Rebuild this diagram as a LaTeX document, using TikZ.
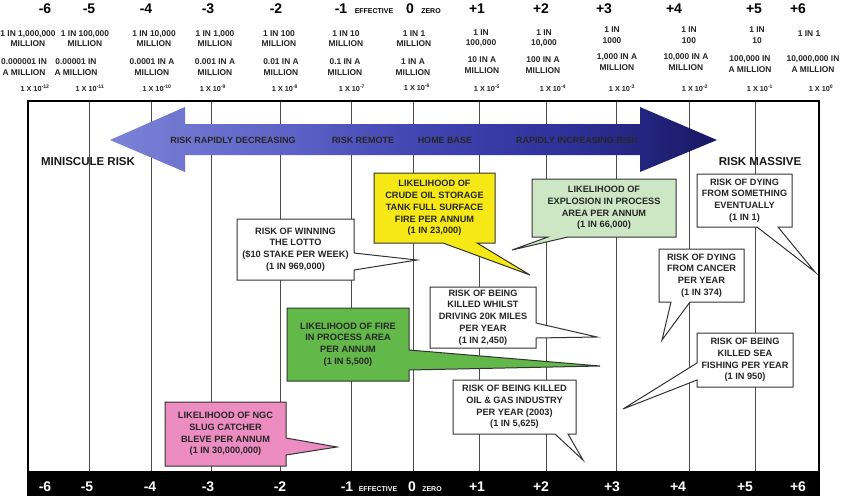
\documentclass[tikz,border=0pt]{standalone}
\usepackage{fontspec}
\setmainfont{Liberation Sans}
\definecolor{cyel}{RGB}{245,232,20}
\definecolor{clgreen}{RGB}{205,230,196}
\definecolor{cgreen}{RGB}{98,184,72}
\definecolor{cpink}{RGB}{236,140,192}
\definecolor{arrL}{RGB}{124,130,214}
\definecolor{arrA}{RGB}{92,98,198}
\definecolor{arrM}{RGB}{66,70,178}
\definecolor{arrB}{RGB}{46,48,152}
\definecolor{arrR}{RGB}{24,24,100}
\pgfdeclarehorizontalshading{arrshade}{100bp}{color(0bp)=(arrL); color(25bp)=(arrL); color(40bp)=(arrA); color(50bp)=(arrM); color(63bp)=(arrB); color(75bp)=(arrR); color(100bp)=(arrR)}
\begin{document}
\begin{tikzpicture}[x=1pt,y=-1pt,
  hdr/.style={font=\bfseries\fontsize{8.4}{10.5}\selectfont,align=center,text=black!85,inner sep=0pt},
  bignum/.style={font=\bfseries\fontsize{14}{14}\selectfont,inner sep=0pt,anchor=base},
  tinytxt/.style={font=\bfseries\fontsize{7}{7}\selectfont,inner sep=0pt,anchor=base},
  expo/.style={font=\bfseries\fontsize{7.3}{8}\selectfont,inner sep=0pt,text=black!85},
  calltext/.style={font=\bfseries\fontsize{9.2}{11.8}\selectfont,align=center,text=black!85,inner sep=0pt},
  cbox/.style={draw=black!80,line width=1pt,line join=miter},
  vline/.style={draw=black!70,line width=0.9pt},
  arrowtext/.style={font=\bfseries\fontsize{9}{10}\selectfont,text=black!85,inner sep=0pt},
  risk/.style={font=\bfseries\fontsize{11.5}{12}\selectfont,inner sep=0pt,text=black!90},
]
\useasboundingbox (0,0) rectangle (844,496);
\fill[white] (0,0) rectangle (844,496);

% ---------- header: scale numbers ----------
\node[bignum] (tm6) at (45,13) {-6};
\node[bignum] (tm5) at (89,13) {-5};
\node[bignum] (tm4) at (146,13) {-4};
\node[bignum] (tm3) at (208,13) {-3};
\node[bignum] (tm2) at (276,13) {-2};
\node[bignum] (tm1) at (341,13) {-1};
\node[tinytxt] (teff) at (374,13) {EFFECTIVE};
\node[bignum] (t0) at (410,13) {0};
\node[tinytxt] (tzero) at (431,13) {ZERO};
\node[bignum] (tp1) at (477,13) {+1};
\node[bignum] (tp2) at (541,13) {+2};
\node[bignum] (tp3) at (604,13) {+3};
\node[bignum] (tp4) at (674,13) {+4};
\node[bignum] (tp5) at (754,13) {+5};
\node[bignum] (tp6) at (798,13) {+6};

% ---------- header: 1 in ... ----------
\node[hdr] (ra1) at (28,38.5) {1 IN 1,000,000\\MILLION};
\node[hdr] (ra2) at (85,38.5) {1 IN 100,000\\MILLION};
\node[hdr] (ra3) at (154,38.5) {1 IN 10,000\\MILLION};
\node[hdr] (ra4) at (215,38.5) {1 IN 1,000\\MILLION};
\node[hdr] (ra5) at (279,38.5) {1 IN 100\\MILLION};
\node[hdr] (ra6) at (346,38.5) {1 IN 10\\MILLION};
\node[hdr] (ra7) at (414,38.5) {1 IN 1\\MILLION};
\node[hdr] (ra8) at (481,38.5) {1 IN\\100,000};
\node[hdr] (ra9) at (544,38.5) {1 IN\\10,000};
\node[hdr] (ra10) at (612,35) {1 IN\\1000};
\node[hdr] (ra11) at (689,35) {1 IN\\100};
\node[hdr] (ra12) at (757,35) {1 IN\\10};
\node[hdr] (ra13) at (809,34) {1 IN 1};

% ---------- header: in a million ----------
\node[hdr] (rb1) at (24,67) {0.000001 IN\\A MILLION};
\node[hdr] (rb2) at (76,67) {0.00001 IN\\A MILLION};
\node[hdr] (rb3) at (152,67) {0.0001 IN A\\MILLION};
\node[hdr] (rb4) at (215,67) {0.001 IN A\\MILLION};
\node[hdr] (rb5) at (281,67) {0.01 IN A\\MILLION};
\node[hdr] (rb6) at (345,67) {0.1 IN A\\MILLION};
\node[hdr] (rb7) at (413,67) {1 IN A\\MILLION};
\node[hdr] (rb8) at (482,65) {10 IN A\\MILLION};
\node[hdr] (rb9) at (543,65) {100 IN A\\MILLION};
\node[hdr] (rb10) at (617,62) {1,000 IN A\\MILLION};
\node[hdr] (rb11) at (686,62) {10,000 IN A\\MILLION};
\node[hdr] (rb12) at (750,64) {100,000 IN\\A MILLION};
\node[hdr] (rb13) at (813,64) {10,000,000 IN\\A MILLION};

% ---------- header: powers ----------
\node[expo] (rc1) at (35,88) {1 X 10\textsuperscript{-12}};
\node[expo] (rc2) at (90,88) {1 X 10\textsuperscript{-11}};
\node[expo] (rc3) at (157,88) {1 X 10\textsuperscript{-10}};
\node[expo] (rc4) at (213,88) {1 X 10\textsuperscript{-9}};
\node[expo] (rc5) at (285,88) {1 X 10\textsuperscript{-8}};
\node[expo] (rc6) at (352,88) {1 X 10\textsuperscript{-7}};
\node[expo] (rc7) at (417,87) {1 X 10\textsuperscript{-6}};
\node[expo] (rc8) at (487,88) {1 X 10\textsuperscript{-5}};
\node[expo] (rc9) at (553,88) {1 X 10\textsuperscript{-4}};
\node[expo] (rc10) at (622,88) {1 X 10\textsuperscript{-3}};
\node[expo] (rc11) at (695,88) {1 X 10\textsuperscript{-2}};
\node[expo] (rc12) at (760,88) {1 X 10\textsuperscript{-1}};
\node[expo] (rc13) at (821,88) {1 X 10\textsuperscript{0}};

% ---------- grid ----------
\foreach \xx in {89,151,211,280,351,413,479,546,616,689,755}
  \draw[vline] (\xx,101) -- (\xx,471);
\draw[line width=1.8pt,line join=miter] (28,471) -- (28,101) -- (819,101) -- (819,471);
\fill[black] (27.1,470.5) rectangle (820,496);

% ---------- big double arrow ----------
\shade[shading=arrshade]
  (110,140) -- (185,107) -- (185,124) -- (640,124) -- (640,107) -- (717,140)
  -- (640,172) -- (640,155) -- (185,155) -- (185,172) -- cycle;
\node[arrowtext] (a1) at (233,140) {RISK RAPIDLY DECREASING};
\node[arrowtext] (a2) at (363,140) {RISK REMOTE};
\node[arrowtext] (a3) at (445,140) {HOME BASE};
\node[arrowtext] (a4) at (577,140) {RAPIDLY INCREASING RISK};

\node[risk] (mini) at (88,162) {MINISCULE RISK};
\node[risk] (massive) at (760,162) {RISK MASSIVE};

% ---------- callouts ----------
% lotto
\filldraw[cbox,fill=white] (237,219) -- (354,219) -- (354,253) -- (417,260) -- (354,270)
  -- (354,280) -- (237,280) -- cycle;
\node[calltext] (lotto) at (295.5,249.5) {RISK OF WINNING\\THE LOTTO\\(\$10 STAKE PER WEEK)\\(1 IN 969,000)};
% crude oil tank (yellow)
\filldraw[cbox,fill=cyel] (374,173) -- (495,173) -- (495,243) -- (477,243) -- (530,275)
  -- (443,243) -- (374,243) -- cycle;
\node[calltext] (tank) at (434.5,208) {LIKELIHOOD OF\\CRUDE OIL STORAGE\\TANK FULL SURFACE\\FIRE PER ANNUM\\(1 IN 23,000)};
% explosion (light green)
\filldraw[cbox,fill=clgreen] (532,179) -- (676,179) -- (676,237) -- (568,237) -- (512,250)
  -- (548,237) -- (532,237) -- cycle;
\node[calltext] (expl) at (604,208) {LIKELIHOOD OF\\EXPLOSION IN PROCESS\\AREA PER ANNUM\\(1 IN 66,000)};
% dying eventually
\filldraw[cbox,fill=white] (697,174) -- (792,174) -- (792,227) -- (778,227) -- (815,272)
  -- (757,227) -- (697,227) -- cycle;
\node[calltext] (event) at (744.5,200.5) {RISK OF DYING\\FROM SOMETHING\\EVENTUALLY\\(1 IN 1)};
% cancer
\filldraw[cbox,fill=white] (659,249) -- (744,249) -- (744,302) -- (690,302) -- (662,340)
  -- (671,302) -- (659,302) -- cycle;
\node[calltext] (cancer) at (701.5,275.5) {RISK OF DYING\\FROM CANCER\\PER YEAR\\(1 IN 374)};
% sea fishing
\filldraw[cbox,fill=white] (697,333) -- (793,333) -- (793,387) -- (697,387) -- (697,380)
  -- (623,409) -- (697,363) -- cycle;
\node[calltext] (sea) at (745,360) {RISK OF BEING\\KILLED SEA\\FISHING PER YEAR\\(1 IN 950)};
% driving
\filldraw[cbox,fill=white] (430,287) -- (536,287) -- (536,323) -- (597,337) -- (536,338)
  -- (536,348) -- (430,348) -- cycle;
\node[calltext] (drive) at (483,317.5) {RISK OF BEING\\KILLED WHILST\\DRIVING 20K MILES\\PER YEAR\\(1 IN 2,450)};
% fire in process area (green)
\filldraw[cbox,fill=cgreen] (287,308) -- (409,308) -- (409,350) -- (600,366) -- (409,370)
  -- (409,381) -- (287,381) -- cycle;
\node[calltext] (fire) at (348,344.5) {LIKELIHOOD OF FIRE\\IN PROCESS AREA\\PER ANNUM\\(1 IN 5,500)};
% oil and gas
\filldraw[cbox,fill=white] (453,380) -- (576,380) -- (576,434) -- (568,434) -- (583,460)
  -- (555,434) -- (453,434) -- cycle;
\node[calltext] (oilgas) at (514.5,407) {RISK OF BEING KILLED\\OIL \& GAS INDUSTRY\\PER YEAR (2003)\\(1 IN 5,625)};
% NGC slug catcher (pink)
\filldraw[cbox,fill=cpink] (165,402) -- (286,402) -- (286,438) -- (337,447) -- (286,455)
  -- (286,466) -- (165,466) -- cycle;
\node[calltext] (ngc) at (225.5,434) {LIKELIHOOD OF NGC\\SLUG CATCHER\\BLEVE PER ANNUM\\(1 IN 30,000,000)};

% ---------- bottom bar labels ----------
\begin{scope}[every node/.append style={text=white}]
\node[bignum] (bm6) at (45,491) {-6};
\node[bignum] (bm5) at (87,491) {-5};
\node[bignum] (bm4) at (150,491) {-4};
\node[bignum] (bm3) at (208,491) {-3};
\node[bignum] (bm2) at (280,491) {-2};
\node[bignum] (bm1) at (347,491) {-1};
\node[tinytxt] (beff) at (378,491) {EFFECTIVE};
\node[bignum] (b0) at (412,491) {0};
\node[tinytxt] (bzero) at (432,491) {ZERO};
\node[bignum] (bp1) at (477,491) {+1};
\node[bignum] (bp2) at (541,491) {+2};
\node[bignum] (bp3) at (612,491) {+3};
\node[bignum] (bp4) at (678,491) {+4};
\node[bignum] (bp5) at (745,491) {+5};
\node[bignum] (bp6) at (798,491) {+6};
\end{scope}
\end{tikzpicture}
\end{document}
